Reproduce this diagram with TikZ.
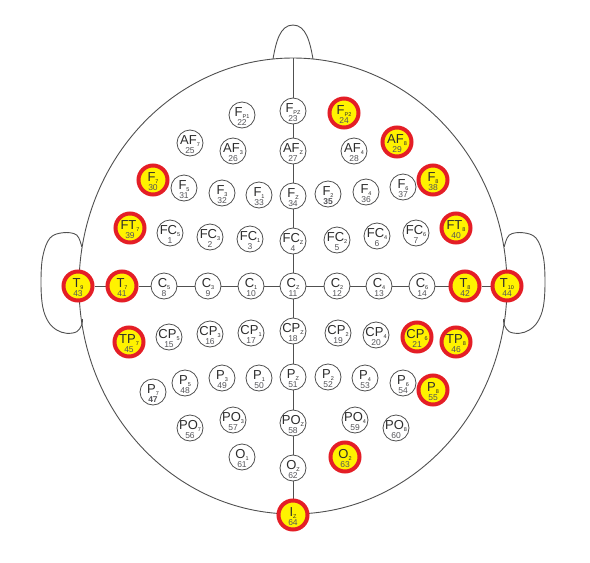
\documentclass[tikz,border=0pt]{standalone}
\usepackage{fontspec}
\setmainfont{Liberation Sans}
\usetikzlibrary{backgrounds}
\definecolor{hotred}{RGB}{228,30,38}
\definecolor{hotyellow}{RGB}{255,242,0}
\definecolor{linegray}{RGB}{80,80,80}
\definecolor{txtgray}{RGB}{45,45,45}
\definecolor{numgray}{RGB}{85,85,90}
\newcommand\subfnt{\fontsize{5.5}{5.5}\selectfont}
\newcommand\elec[7]{%
  \node[#4] (#1) at (#2,#3) {};
  \node[lettxt] at ([yshift=-1.5pt]#1.center) {#5\raisebox{-1.6pt}{\subfnt #6}};
  \node[numtxt] at ([yshift=-10pt]#1.center) {#7};
}
\tikzset{
  plainel/.style={circle, draw=linegray, line width=0.8pt, fill=white, minimum size=26pt, inner sep=0pt},
  hotel/.style={circle, draw=hotred, line width=4pt, fill=hotyellow, minimum size=29pt, inner sep=0pt},
  lettxt/.style={anchor=base, inner sep=0pt, text=txtgray, font=\fontsize{13}{13}\selectfont},
  numtxt/.style={anchor=base, inner sep=0pt, text=numgray, font=\fontsize{8.5}{8.5}\selectfont},
  headline/.style={draw=linegray, line width=0.9pt},
  conn/.style={draw=linegray, line width=0.9pt}
}
\begin{document}
\begin{tikzpicture}[x=1pt,y=-1pt]
\useasboundingbox (0,0) rectangle (590,563);
% electrodes
\elec{fp1}{242}{115}{plainel}{F}{P1}{22}
\elec{fpz}{293}{111}{plainel}{F}{PZ}{23}
\elec{fp2}{344}{113}{hotel}{F}{P2}{24}
\elec{af7}{190}{143}{plainel}{AF}{7}{25}
\elec{af3}{233}{151}{plainel}{AF}{3}{26}
\elec{afz}{293}{151}{plainel}{AF}{Z}{27}
\elec{af4}{354}{151}{plainel}{AF}{4}{28}
\elec{af8}{397}{142}{hotel}{AF}{8}{29}
\elec{f7}{153}{180}{hotel}{F}{7}{30}
\elec{f5}{184}{188}{plainel}{F}{5}{31}
\elec{f3}{222}{193}{plainel}{F}{3}{32}
\elec{f1}{259}{195}{plainel}{F}{1}{33}
\elec{fz}{293}{196}{plainel}{F}{Z}{34}
\elec{f2}{328}{194}{plainel}{F}{2}{\textbf{35}}
\elec{f4}{366}{192}{plainel}{F}{4}{36}
\elec{f6}{403}{187}{plainel}{F}{6}{37}
\elec{f8}{433}{180}{hotel}{F}{8}{38}
\elec{ft7}{130}{228}{hotel}{FT}{7}{39}
\elec{fc5}{170}{233}{plainel}{FC}{5}{1}
\elec{fc3}{210}{237}{plainel}{FC}{3}{2}
\elec{fc1}{250}{239}{plainel}{FC}{1}{3}
\elec{fcz}{293}{241}{plainel}{FC}{Z}{4}
\elec{fc2}{337}{240}{plainel}{FC}{2}{5}
\elec{fc4}{377}{236}{plainel}{FC}{4}{6}
\elec{fc6}{416}{233}{plainel}{FC}{6}{7}
\elec{ft8}{456}{228}{hotel}{FT}{8}{40}
\elec{t9}{78}{286}{hotel}{T}{9}{43}
\elec{t7}{122}{286}{hotel}{T}{7}{41}
\elec{c5}{164}{286}{plainel}{C}{5}{8}
\elec{c3}{208}{286}{plainel}{C}{3}{9}
\elec{c1}{251}{286}{plainel}{C}{1}{10}
\elec{cz}{293}{286}{plainel}{C}{Z}{11}
\elec{c2}{337}{286}{plainel}{C}{2}{12}
\elec{c4}{379}{286}{plainel}{C}{4}{13}
\elec{c6}{422}{286}{plainel}{C}{6}{14}
\elec{t8}{465}{286}{hotel}{T}{8}{42}
\elec{t10}{507}{286}{hotel}{T}{10}{44}
\elec{tp7}{129}{342}{hotel}{TP}{7}{45}
\elec{cp5}{169}{337}{plainel}{CP}{5}{15}
\elec{cp3}{210}{334}{plainel}{CP}{3}{16}
\elec{cp1}{251}{333}{plainel}{CP}{1}{17}
\elec{cpz}{293}{331}{plainel}{CP}{Z}{18}
\elec{cp2}{338}{333}{plainel}{CP}{2}{19}
\elec{cp4}{376}{335}{plainel}{CP}{4}{20}
\elec{cp6}{417}{337}{hotel}{CP}{6}{21}
\elec{tp8}{456}{342}{hotel}{TP}{8}{46}
\elec{p7}{153}{392}{plainel}{P}{7}{\textbf{47}}
\elec{p5}{185}{383}{plainel}{P}{5}{48}
\elec{p3}{222}{378}{plainel}{P}{3}{49}
\elec{p1}{259}{378}{plainel}{P}{1}{50}
\elec{pz}{293}{377}{plainel}{P}{Z}{51}
\elec{p2}{328}{377}{plainel}{P}{2}{52}
\elec{p4}{365}{378}{plainel}{P}{4}{53}
\elec{p6}{403}{383}{plainel}{P}{6}{54}
\elec{p8}{433}{390}{hotel}{P}{8}{55}
\elec{po7}{190}{428}{plainel}{PO}{7}{56}
\elec{po3}{233}{420}{plainel}{PO}{3}{57}
\elec{poz}{293}{423}{plainel}{PO}{Z}{58}
\elec{po4}{355}{420}{plainel}{PO}{4}{59}
\elec{po8}{396}{428}{plainel}{PO}{8}{60}
\elec{o1}{242}{457}{plainel}{O}{1}{61}
\elec{oz}{293}{468}{plainel}{O}{Z}{62}
\elec{o2}{345}{457}{hotel}{O}{2}{63}
\elec{iz}{293}{515}{hotel}{I}{Z}{64}
\coordinate (top) at (293,58);
\begin{scope}[on background layer]
  % head
  \draw[headline] (293,286) ellipse [x radius=214, y radius=228];
  % nose
  \draw[headline] (273,59) .. controls (276,42) and (280,25) .. (293,25)
                  .. controls (306,25) and (310,42) .. (313,59);
  % ears
  \draw[headline] plot[smooth, tension=0.6] coordinates {(81.7,246.7) (76.7,235) (63.3,232.7) (50,238) (42.7,256.7) (41,283) (42.7,306.7) (48.3,321.7) (56.7,330) (66.7,333.3) (76.7,331.7) (81.7,325) (82.5,319)};
  \draw[headline] plot[smooth, tension=0.6] coordinates {(504.3,246.7) (509.3,235) (522.7,232.7) (536,238) (543.3,256.7) (545,283) (543.3,306.7) (537.7,321.7) (529.3,330) (519.3,333.3) (509.3,331.7) (504.3,325) (503.5,319)};
  % connectors
  \draw[conn] (top) -- (fpz) -- (afz) -- (fz) -- (fcz) -- (cz) -- (cpz) -- (pz) -- (poz) -- (oz) -- (iz);
  \draw[conn] (t9) -- (t7) -- (c5) -- (c3) -- (c1) -- (cz) -- (c2) -- (c4) -- (c6) -- (t8) -- (t10);
\end{scope}
\end{tikzpicture}
\end{document}
